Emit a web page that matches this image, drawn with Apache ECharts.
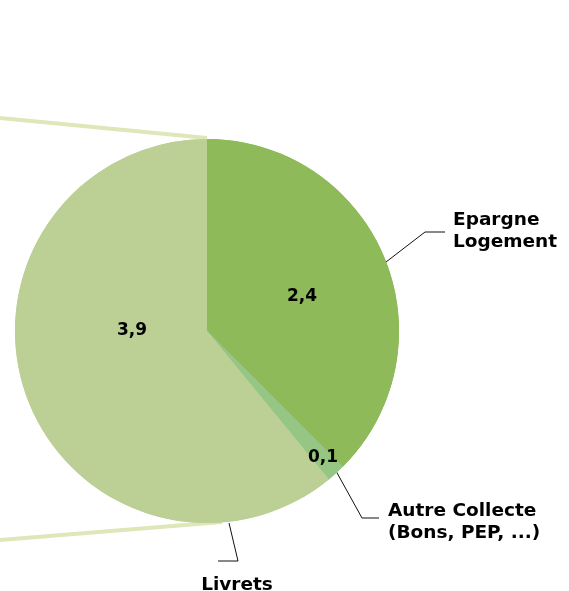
<!DOCTYPE html>
<html>
<head>
<meta charset="utf-8">
<style>
  html, body { margin: 0; padding: 0; background: #fff; }
  #chart { width: 569px; height: 591px; }
</style>
<script src="https://cdn.jsdelivr.net/npm/echarts@6/dist/echarts.min.js"></script>
</head>
<body>
<div id="chart"></div>
<script>
// donnees
var categories = ["Epargne\nLogement", "Autre Collecte\n(Bons, PEP, ...)", "Livrets"];
var values = [2.4, 0.1, 3.9];
var valueLabels = ["2,4", "0,1", "3,9"];
var colors = ["#8eba5a", "#96c683", "#bcd095"];

(function () {
  var myChart = echarts.init(document.querySelector("#chart"));
  var cx = 207, cy = 331, r = 192;
  var font = "DejaVu Sans";

  // positions des etiquettes
  var valuePos = [[302, 297], [323, 458], [132, 331]];
  var namePos = [
    { x: 453, y: 231, align: "left", line: [[386, 262], [425, 232], [445, 232]] },
    { x: 388, y: 522, align: "left", line: [[336, 471], [362, 518], [379, 518]] },
    { x: 237, y: 585, align: "center", line: [[229, 523], [238, 561], [218, 561]] },
  ];

  var data = values.map(function (v, i) {
    return { value: v, name: categories[i], itemStyle: { color: colors[i] } };
  });

  var option = {
    animation: false,
    // lignes de liaison (graphique "pie of pie")
    graphic: [
      {
        type: "polyline",
        z: -1,
        shape: { points: [[0, 118], [cx, cy - r - 1]] },
        style: { stroke: "#dde7b8", lineWidth: 4, fill: null },
      },
      {
        type: "polyline",
        z: -1,
        shape: { points: [[0, 540], [cx + 15, cy + r - 1]] },
        style: { stroke: "#dde7b8", lineWidth: 4, fill: null },
      },
    ],
    series: [
      {
        type: "pie",
        center: [cx, cy],
        radius: r,
        startAngle: 90,
        clockwise: true,
        silent: true,
        avoidLabelOverlap: false,
        data: data,
        label: {
          show: true,
          position: "inside",
          fontFamily: font,
          fontWeight: "bold",
          fontSize: 17,
          color: "#000",
          formatter: function (p) {
            return valueLabels[p.dataIndex];
          },
        },
        labelLayout: function (p) {
          var pos = valuePos[p.dataIndex];
          return { x: pos[0], y: pos[1], align: "center", verticalAlign: "middle" };
        },
      },
      {
        type: "pie",
        center: [cx, cy],
        radius: r,
        startAngle: 90,
        clockwise: true,
        silent: true,
        avoidLabelOverlap: false,
        data: data,
        itemStyle: { color: "rgba(0,0,0,0)" },
        label: {
          show: true,
          position: "outside",
          fontFamily: font,
          fontWeight: "bold",
          fontSize: 18.5,
          lineHeight: 22,
          color: "#000",
          formatter: "{b}",
        },
        labelLine: {
          show: true,
          lineStyle: { color: "#111", width: 1 },
        },
        labelLayout: function (p) {
          var n = namePos[p.dataIndex];
          return {
            x: n.x,
            y: n.y,
            align: n.align,
            verticalAlign: "middle",
            labelLinePoints: n.line,
          };
        },
      },
    ],
  };
  myChart.setOption(option);
})();
</script>
</body>
</html>
